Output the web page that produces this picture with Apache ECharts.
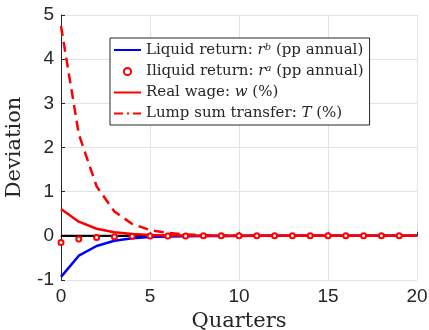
<!DOCTYPE html>
<html>
<head>
<meta charset="utf-8">
<script src="https://cdn.jsdelivr.net/npm/echarts@6/dist/echarts.min.js"></script>
<style>
  html, body { margin: 0; padding: 0; background: #fff; }
  #chart { width: 429px; height: 330px; }
</style>
</head>
<body>
<div id="chart"></div>
<script>
// quarters on the x axis
const quarters = [0, 1, 2, 3, 4, 5, 6, 7, 8, 9, 10, 11, 12, 13, 14, 15, 16, 17, 18, 19, 20];
const dotQuarters = [0, 1, 2, 3, 4, 5, 6, 7, 8, 9, 10, 11, 12, 13, 14, 15, 16, 17, 18, 19];

// impulse responses
const liquidReturn = [-0.93, -0.45, -0.23, -0.11, -0.055, -0.027, -0.013, -0.007, -0.003, -0.002, -0.001, 0, 0, 0, 0, 0, 0, 0, 0, 0, 0];
const illiquidReturn = [-0.15, -0.07, -0.04, -0.02, -0.01, -0.005, -0.003, -0.001, 0, 0, 0, 0, 0, 0, 0, 0, 0, 0, 0, 0];
const realWage = [0.61, 0.32, 0.16, 0.08, 0.04, 0.02, 0.01, 0.005, 0.003, 0.001, 0, 0, 0, 0, 0, 0, 0, 0, 0, 0, 0];
const lumpSum = [4.75, 2.3, 1.12, 0.55, 0.27, 0.13, 0.065, 0.032, 0.016, 0.008, 0.004, 0.002, 0.001, 0, 0, 0, 0, 0, 0, 0, 0];

const names = [
    'Liquid return: {i|r}{sup|b} (pp annual)',
    'Iliquid return: {i|r}{sup|a} (pp annual)',
    'Real wage: {i|w} (%)',
    'Lump sum transfer: {i|T} (%)'
];

const pair = (xs, ys) => xs.map((x, i) => [x, ys[i]]);

const chart = echarts.init(document.getElementById('chart'), null, { renderer: 'canvas' });

const axisColor = '#262626';
const serif = 'DejaVu Serif';
const noSymbol = { opacity: 0 }; // hide the legend marker, keep the line

chart.setOption({
    animation: false,
    grid: { left: 61, right: 12, top: 15, bottom: 50, outerBoundsMode: 'none' },
    legend: {
        orient: 'vertical',
        left: 110,
        top: 38,
        itemWidth: 27,
        itemHeight: 9,
        itemGap: 6,
        padding: [4, 6, 4, 3],
        borderColor: axisColor,
        borderWidth: 1,
        backgroundColor: '#fff',
        textStyle: {
            fontFamily: serif,
            fontSize: 15,
            color: axisColor,
            rich: {
                i: { fontFamily: serif, fontStyle: 'italic', fontSize: 15, color: axisColor },
                sup: { fontFamily: serif, fontStyle: 'italic', fontSize: 10, color: axisColor, verticalAlign: 'top', padding: [0, 0, 6, 0] }
            }
        },
        data: [
            { name: names[0], itemStyle: noSymbol },
            { name: names[1], lineStyle: { opacity: 0 } },
            { name: names[2], itemStyle: noSymbol },
            { name: names[3], itemStyle: noSymbol, lineStyle: { type: [9, 4, 2, 4] } }
        ]
    },
    xAxis: {
        type: 'value',
        min: 0,
        max: 20,
        interval: 5,
        name: 'Quarters',
        nameLocation: 'middle',
        nameGap: 29,
        nameTextStyle: { fontFamily: serif, fontSize: 21, color: axisColor },
        axisLine: { show: true, lineStyle: { color: axisColor, width: 1 } },
        axisTick: { show: true, inside: true, length: 4, lineStyle: { color: axisColor } },
        axisLabel: { fontFamily: 'Liberation Sans', fontSize: 19, color: axisColor, margin: 7 },
        splitLine: { show: true, lineStyle: { color: '#e3e3e3', width: 1 } }
    },
    yAxis: {
        type: 'value',
        min: -1,
        max: 5,
        interval: 1,
        name: 'Deviation',
        nameLocation: 'middle',
        nameGap: 36,
        nameTextStyle: { fontFamily: serif, fontSize: 21, color: axisColor },
        axisLine: { show: true, onZero: false, lineStyle: { color: axisColor, width: 1 } },
        axisTick: { show: true, inside: true, length: 4, lineStyle: { color: axisColor } },
        axisLabel: { fontFamily: 'Liberation Sans', fontSize: 19, color: axisColor, margin: 7 },
        splitLine: { show: true, lineStyle: { color: '#e3e3e3', width: 1 } }
    },
    series: [
        {
            type: 'line',
            name: 'zero',
            data: [[0, 0], [20, 0]],
            symbol: 'none',
            lineStyle: { color: '#000', width: 2 },
            z: 1,
            silent: true
        },
        {
            type: 'line',
            name: names[0],
            data: pair(quarters, liquidReturn),
            symbol: 'none',
            color: '#0000ff',
            lineStyle: { color: '#0000ff', width: 2.5 },
            z: 3
        },
        {
            type: 'line',
            name: names[1],
            data: pair(dotQuarters, illiquidReturn),
            symbol: 'emptyCircle',
            symbolSize: 5,
            showAllSymbol: true,
            color: '#ff0000',
            itemStyle: { color: '#ff0000', borderColor: '#ff0000', borderWidth: 3 },
            lineStyle: { width: 0, opacity: 0 },
            z: 5
        },
        {
            type: 'line',
            name: names[2],
            data: pair(quarters, realWage),
            symbol: 'none',
            color: '#ff0000',
            lineStyle: { color: '#ff0000', width: 2.5 },
            z: 4
        },
        {
            type: 'line',
            name: names[3],
            data: pair(quarters, lumpSum),
            symbol: 'none',
            color: '#ff0000',
            lineStyle: { color: '#ff0000', width: 2.5, type: [10, 6] },
            z: 4
        }
    ]
});

window.addEventListener('resize', () => {
    chart.resize();
});
</script>
</body>
</html>
